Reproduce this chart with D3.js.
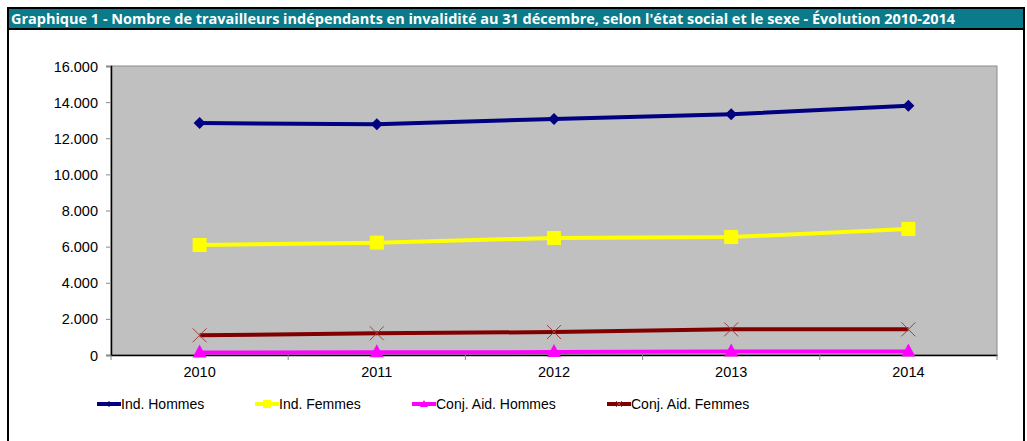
<!DOCTYPE html>
<html lang="fr">
<head>
<meta charset="utf-8">
<script src="https://d3js.org/d3.v7.min.js"></script>
<style>
  body { margin: 0; background: #fff; }
  svg text { font-family: "Liberation Sans", Arial, sans-serif; fill: #000; }
</style>
</head>
<body>
<script>
// Data
var years = ["2010", "2011", "2012", "2013", "2014"];
var indHommes = [12840, 12770, 13070, 13330, 13800];
var indFemmes = [6090, 6220, 6480, 6530, 6980];
var conjHommes = [140, 150, 160, 190, 190];
var conjFemmes = [1090, 1200, 1270, 1420, 1420];
var yTicks = [0, 2000, 4000, 6000, 8000, 10000, 12000, 14000, 16000];
var seriesNames = ["Ind. Hommes", "Ind. Femmes", "Conj. Aid. Hommes", "Conj. Aid. Femmes"];

var W = 1027, H = 441;
var svg = d3.select("body").append("svg").attr("width", W).attr("height", H);

// frame + title bar
svg.append("rect").attr("x", 8).attr("y", 8).attr("width", 1016).attr("height", 440)
   .attr("fill", "#fff").attr("stroke", "#000").attr("stroke-width", 2);
svg.append("rect").attr("x", 8).attr("y", 8).attr("width", 1016).attr("height", 21)
   .attr("fill", "#0b7a8a").attr("stroke", "#000").attr("stroke-width", 2);
svg.append("text").attr("x", 11).attr("y", 23.5)
   .attr("textLength", 944).attr("lengthAdjust", "spacingAndGlyphs")
   .style("font-family", "'Open Sans', sans-serif").style("font-weight", "bold")
   .style("font-size", "13.5px").style("fill", "#fff")
   .text("Graphique 1 - Nombre de travailleurs indépendants en invalidité au 31 décembre, selon l'état social et le sexe - Évolution 2010-2014");

// plot area
var pLeft = 111, pRight = 997, pTop = 66, pBottom = 355;
var x = d3.scaleBand().domain(years).range([pLeft, pRight]);
var y = d3.scaleLinear().domain([0, 16000]).range([pBottom, pTop]);

svg.append("rect").attr("x", pLeft).attr("y", pTop).attr("width", pRight - pLeft).attr("height", pBottom - pTop)
   .attr("fill", "#c0c0c0").attr("stroke", "#8c8c8c").attr("stroke-width", 1);

var fmt = function(d) { return d3.format(",")(d).replace(/,/g, "."); };

var yAxis = svg.append("g").attr("transform", "translate(" + pLeft + ",0)")
   .call(d3.axisLeft(y).tickValues(yTicks).tickFormat(fmt).tickSize(5).tickPadding(8));
yAxis.select(".domain").attr("stroke", "#000").attr("stroke-width", 1.5);
yAxis.selectAll(".tick line").attr("stroke", "#888");
yAxis.selectAll("text").style("font-size", "14.5px").attr("dy", "0.35em");

var xAxis = svg.append("g").attr("transform", "translate(0," + pBottom + ")")
   .call(d3.axisBottom(x).tickSize(0).tickPadding(12));
xAxis.select(".domain").attr("stroke", "#000").attr("stroke-width", 1.5);
xAxis.selectAll("text").style("font-size", "14.5px");
// tick marks between categories
var bounds = years.map(function(d) { return x(d); }).concat([pRight]);
svg.append("g").selectAll("line").data(bounds).enter().append("line")
   .attr("x1", function(d) { return d; }).attr("x2", function(d) { return d; })
   .attr("y1", pBottom).attr("y2", pBottom + 5).attr("stroke", "#888");

var cx = function(i) { return x(years[i]) + x.bandwidth() / 2; };
var line = d3.line().x(function(d, i) { return cx(i); }).y(function(d) { return y(d); });

var series = [
  { name: seriesNames[0], values: indHommes, color: "#000080", marker: "diamond" },
  { name: seriesNames[1], values: indFemmes, color: "#ffff00", marker: "square" },
  { name: seriesNames[2], values: conjHommes, color: "#ff00ff", marker: "triangle" },
  { name: seriesNames[3], values: conjFemmes, color: "#800000", marker: "cross" }
];

function drawMarker(g, type, color, px, py) {
  if (type === "diamond") {
    g.append("path").attr("d", "M" + px + "," + (py - 6) + "L" + (px + 6) + "," + py + "L" + px + "," + (py + 6) + "L" + (px - 6) + "," + py + "Z")
     .attr("fill", color);
  } else if (type === "square") {
    g.append("rect").attr("x", px - 7).attr("y", py - 7).attr("width", 14).attr("height", 14).attr("fill", color);
  } else if (type === "triangle") {
    g.append("path").attr("d", "M" + px + "," + (py - 8) + "L" + (px + 7) + "," + (py + 5) + "L" + (px - 7) + "," + (py + 5) + "Z").attr("fill", color);
  } else {
    g.append("path").attr("d", "M" + (px - 7) + "," + (py - 7) + "L" + (px + 7) + "," + (py + 7) + "M" + (px + 7) + "," + (py - 7) + "L" + (px - 7) + "," + (py + 7))
     .attr("stroke", "#a04040").attr("stroke-width", 1).attr("fill", "none");
  }
}

var drawOrder = [3, 2, 1, 0];
drawOrder.forEach(function(k) {
  var s = series[k];
  var g = svg.append("g");
  g.append("path").datum(s.values).attr("d", line).attr("fill", "none")
   .attr("stroke", s.color).attr("stroke-width", 4);
  s.values.forEach(function(v, i) { drawMarker(g, s.marker, s.color, cx(i), y(v)); });
});

// legend
var legendX = [97, 255, 412, 607];
var ly = 404;
series.forEach(function(s, i) {
  var g = svg.append("g");
  g.append("line").attr("x1", legendX[i]).attr("x2", legendX[i] + 24).attr("y1", ly).attr("y2", ly)
   .attr("stroke", s.color).attr("stroke-width", 4);
  var mx = legendX[i] + 12;
  if (s.marker === "diamond") {
    g.append("path").attr("d", "M" + mx + "," + (ly - 3) + "L" + (mx + 3) + "," + ly + "L" + mx + "," + (ly + 3) + "L" + (mx - 3) + "," + ly + "Z").attr("fill", s.color);
  } else if (s.marker === "square") {
    g.append("rect").attr("x", mx - 4).attr("y", ly - 4).attr("width", 8).attr("height", 8).attr("fill", s.color);
  } else if (s.marker === "triangle") {
    g.append("path").attr("d", "M" + mx + "," + (ly - 4) + "L" + (mx + 4) + "," + (ly + 3) + "L" + (mx - 4) + "," + (ly + 3) + "Z").attr("fill", s.color);
  } else {
    g.append("path").attr("d", "M" + (mx - 3) + "," + (ly - 3) + "L" + (mx + 3) + "," + (ly + 3) + "M" + (mx + 3) + "," + (ly - 3) + "L" + (mx - 3) + "," + (ly + 3))
     .attr("stroke", "#a04040").attr("stroke-width", 1);
  }
  g.append("text").attr("x", legendX[i] + 24).attr("y", ly + 5)
   .style("font-size", "14px").text(s.name);
});
</script>
</body>
</html>
